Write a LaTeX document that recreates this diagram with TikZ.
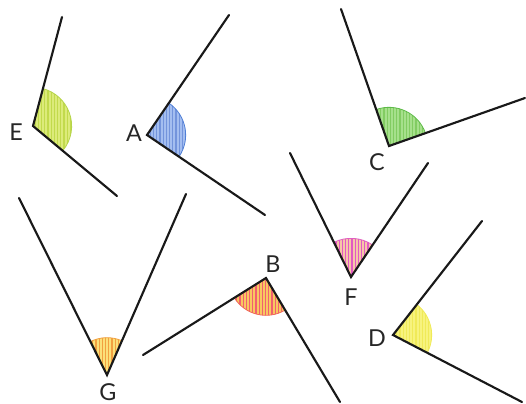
\documentclass[tikz,border=0pt]{standalone}
\usepackage{fontspec}
\setmainfont{Lato}
\usetikzlibrary{angles,patterns.meta}
\definecolor{Ebase}{HTML}{DCEB7A}\definecolor{Estr}{HTML}{C2DA4C}\definecolor{Eedge}{HTML}{B5D44A}
\definecolor{Abase}{HTML}{A4BEF0}\definecolor{Astr}{HTML}{7394DC}\definecolor{Aedge}{HTML}{4F7FD6}
\definecolor{Cbase}{HTML}{A6E08C}\definecolor{Cstr}{HTML}{82CC62}\definecolor{Cedge}{HTML}{5DBA48}
\definecolor{Fbase}{HTML}{F6C6A8}\definecolor{Fstr}{HTML}{E259C3}\definecolor{Fedge}{HTML}{E060C0}
\definecolor{Bbase}{HTML}{F8C860}\definecolor{Bstr}{HTML}{F2606E}\definecolor{Bedge}{HTML}{F06A5A}
\definecolor{Gbase}{HTML}{FBE07A}\definecolor{Gstr}{HTML}{F2A040}\definecolor{Gedge}{HTML}{F0A040}
\definecolor{Dbase}{HTML}{F7F37E}\definecolor{Dstr}{HTML}{F0EA58}\definecolor{Dedge}{HTML}{F0EA58}
\tikzset{
  ray/.style={line width=1.6pt, line cap=round, draw=black!90},
  lbl/.style={font=\fontsize{17.5}{17.5}\selectfont, text=black!85, inner sep=0pt},
  basefill/.style={fill=#1, draw=none, angle radius=29pt},
  stripes/.style 2 args={pattern={Lines[angle=90,distance=2.4pt,line width=1pt]}, pattern color=#1, draw=#2, line width=0.6pt, angle radius=29pt},
}
\begin{document}
\begin{tikzpicture}[x=0.75pt,y=-0.75pt]
\useasboundingbox (0,0) rectangle (526,404);
% coordinates
\coordinate (E) at (33,126);  \coordinate (E1) at (62,17);   \coordinate (E2) at (117,196);
\coordinate (A) at (147,135); \coordinate (A1) at (229,15);  \coordinate (A2) at (265,215);
\coordinate (C) at (389,146); \coordinate (C1) at (341,9);   \coordinate (C2) at (525,98);
\coordinate (F) at (351,277); \coordinate (F1) at (290,153); \coordinate (F2) at (428,163);
\coordinate (D) at (393,335); \coordinate (D1) at (482,221); \coordinate (D2) at (522,402);
\coordinate (B) at (266,278); \coordinate (B1) at (143,355); \coordinate (B2) at (340,402);
\coordinate (G) at (107,375); \coordinate (G1) at (19,198);  \coordinate (G2) at (186,194);
% wedges
\pic [basefill=Ebase] {angle = E2--E--E1};
\pic [stripes={Estr}{Eedge}] {angle = E2--E--E1};
\pic [basefill=Abase] {angle = A2--A--A1};
\pic [stripes={Astr}{Aedge}] {angle = A2--A--A1};
\pic [basefill=Cbase] {angle = C2--C--C1};
\pic [stripes={Cstr}{Cedge}] {angle = C2--C--C1};
\pic [basefill=Fbase] {angle = F2--F--F1};
\pic [stripes={Fstr}{Fedge}] {angle = F2--F--F1};
\pic [basefill=Dbase] {angle = D2--D--D1};
\pic [stripes={Dstr}{Dedge}] {angle = D2--D--D1};
\pic [basefill=Bbase, angle radius=28pt] {angle = B1--B--B2};
\pic [stripes={Bstr}{Bedge}, angle radius=28pt] {angle = B1--B--B2};
\pic [basefill=Gbase, angle radius=28pt] {angle = G2--G--G1};
\pic [stripes={Gstr}{Gedge}, angle radius=28pt] {angle = G2--G--G1};
% rays
\draw[ray] (E1) -- (E) -- (E2);
\draw[ray] (A1) -- (A) -- (A2);
\draw[ray] (C1) -- (C) -- (C2);
\draw[ray] (F1) -- (F) -- (F2);
\draw[ray] (D1) -- (D) -- (D2);
\draw[ray] (B1) -- (B) -- (B2);
\draw[ray] (G1) -- (G) -- (G2);
% labels
\node[lbl] (lE) at (16,132) {E};
\node[lbl] (lA) at (134,133) {A};
\node[lbl] (lC) at (377,162) {C};
\node[lbl] (lF) at (351,297) {F};
\node[lbl] (lD) at (377,338) {D};
\node[lbl] (lB) at (273,264) {B};
\node[lbl] (lG) at (108,392) {G};
\end{tikzpicture}
\end{document}
